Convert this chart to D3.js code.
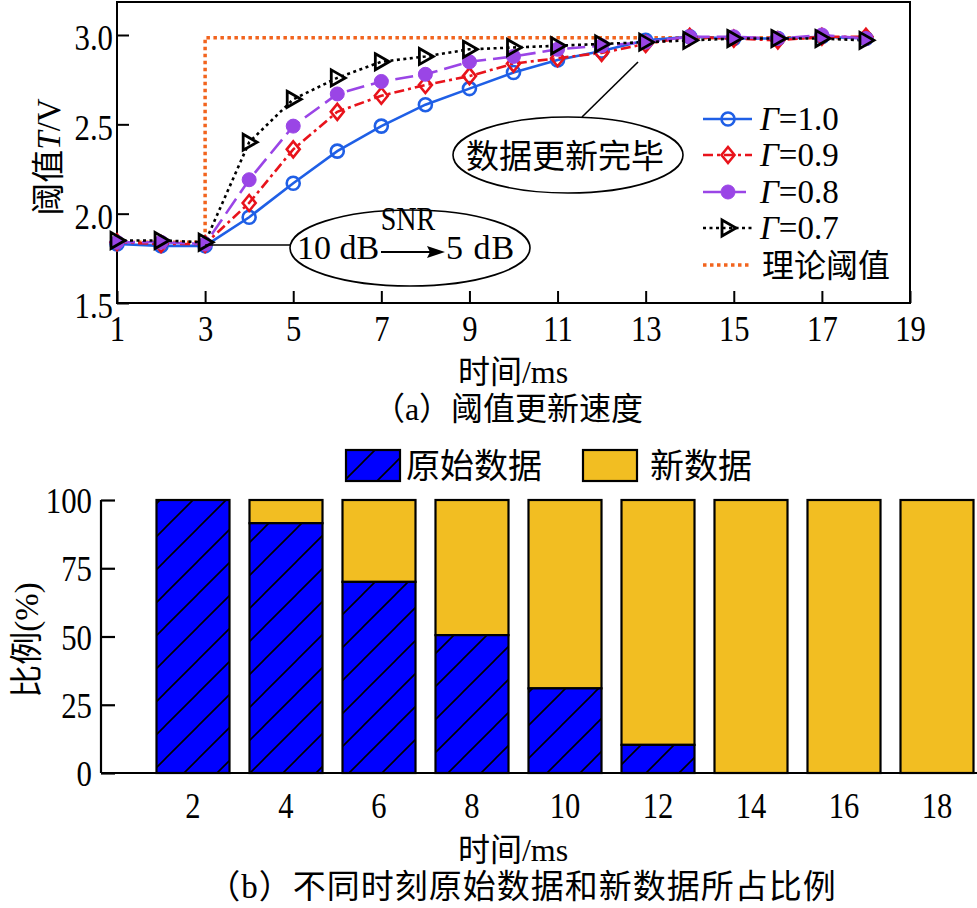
<!DOCTYPE html>
<html><head><meta charset="utf-8">
<script src="https://cdn.jsdelivr.net/npm/d3@7"></script>
<style>
body{margin:0;background:#fff;}
text{font-family:"Liberation Serif","Times New Roman","Noto Sans CJK SC",serif;fill:#000;}
</style></head>
<body><svg id="c" width="977" height="908"></svg>
<script>
// ---------- data (a) ----------
const times = [1,2,3,4,5,6,7,8,9,10,11,12,13,14,15,16,17,18];
const g10 = [1.83,1.82,1.82,1.98,2.17,2.35,2.49,2.61,2.70,2.79,2.86,2.91,2.97,2.99,2.98,2.98,2.99,2.98];
const g09 = [1.84,1.83,1.83,2.06,2.36,2.57,2.66,2.72,2.77,2.84,2.87,2.90,2.95,2.99,2.98,2.97,2.99,2.99];
const g08 = [1.84,1.84,1.83,2.19,2.49,2.67,2.74,2.78,2.85,2.88,2.92,2.94,2.96,2.99,2.99,2.98,3.00,2.98];
const g07 = [1.85,1.85,1.84,2.40,2.64,2.76,2.85,2.88,2.92,2.93,2.94,2.95,2.96,2.97,2.98,2.98,2.98,2.97];
const thX = [1,2,3,3,4,5,6,7,8,9,10,11,12,13,14,15,16,17,18];
const thY = [1.84,1.84,1.84,2.985,2.985,2.985,2.985,2.985,2.985,2.985,2.985,2.985,2.985,2.985,2.985,2.985,2.985,2.985,2.985];
const xTicksA = [1,3,5,7,9,11,13,15,17,19];
const yTicksA = [1.5,2.0,2.5,3.0];
const seriesNames = ["=1.0","=0.9","=0.8","=0.7"];
// ---------- data (b) ----------
const barTimes = ["2","4","6","8","10","12","14","16","18"];
const origPct = [100,91.5,70,50.5,31,10.3,0,0,0];
const newPct = [0,8.5,30,49.5,69,89.7,100,100,100];
const yTicksB = [0,25,50,75,100];
const legendB = ["原始数据","新数据"];

const SX = 0.88;
function narrow(sel, sx){
  sel.each(function(){
    const t = d3.select(this); const ax = +t.attr("x") || 0;
    t.attr("transform",`translate(${ax*(1-sx)},0) scale(${sx},1)`);
  });
}

const svg = d3.select("#c");
const defs = svg.append("defs");
const pat = defs.append("pattern").attr("id","hatch").attr("patternUnits","userSpaceOnUse")
  .attr("width",33).attr("height",33);
pat.append("rect").attr("width",33).attr("height",33).attr("fill","#0000ff");
pat.append("path").attr("d","M-5,38 L38,-5 M-5,5 L5,-5 M28,38 L38,28").attr("stroke","#000").attr("stroke-width",1.6);

// ================= (a) =================
const x = d3.scaleLinear().domain([1,19]).range([117,910]);
const y = d3.scaleLinear().domain([1.5,3.0]).range([303,35]);
const A = svg.append("g");

A.append("rect").attr("x",117).attr("y",2).attr("width",910-117).attr("height",301)
 .attr("fill","none").attr("stroke","#000").attr("stroke-width",2);
const xa = A.append("g").attr("transform","translate(0,303)")
  .call(d3.axisBottom(x).tickValues(xTicksA).tickSizeInner(-12).tickSizeOuter(0).tickPadding(8).tickFormat(d3.format("d")));
xa.select(".domain").remove();
xa.selectAll("line").attr("stroke","#000").attr("stroke-width",2);
xa.selectAll("text").attr("font-size",36).attr("dy","0.7em").attr("y",13).call(narrow,0.85);
const ya = A.append("g").attr("transform","translate(117,0)")
  .call(d3.axisLeft(y).tickValues(yTicksA).tickSizeInner(-12).tickSizeOuter(0).tickPadding(6).tickFormat(d3.format(".1f")));
ya.select(".domain").remove();
ya.selectAll("line").attr("stroke","#000").attr("stroke-width",2);
ya.selectAll("text").attr("font-size",35).attr("x",-4).attr("dy","0.42em").call(narrow,SX);

const line = d3.line().x(d=>x(d[0])).y(d=>y(d[1]));
const zipA = (ys)=>times.map((t,i)=>[t,ys[i]]);

A.append("path").datum(thX.map((t,i)=>[t,thY[i]])).attr("d",line)
 .attr("fill","none").attr("stroke","#f2641e").attr("stroke-width",3.5).attr("stroke-dasharray","3.5,3.5");

const styles = [
 {data:g10,color:"#1f5fe6",dash:null,marker:"circle"},
 {data:g09,color:"#e8131b",dash:"10,4,3,4",marker:"diamond"},
 {data:g08,color:"#9a45e6",dash:"18,7",marker:"dot"},
 {data:g07,color:"#000",dash:"3,3.5",marker:"tri"}
];
function marker(g,type,color,cx,cy){
  if(type==="circle") g.append("circle").attr("cx",cx).attr("cy",cy).attr("r",6.5).attr("fill","none").attr("stroke",color).attr("stroke-width",2.6);
  else if(type==="diamond") g.append("path").attr("d",`M${cx},${cy-8}L${cx+6.5},${cy}L${cx},${cy+8}L${cx-6.5},${cy}Z`).attr("fill","none").attr("stroke",color).attr("stroke-width",2.6);
  else if(type==="dot") g.append("circle").attr("cx",cx).attr("cy",cy).attr("r",7).attr("fill",color).attr("stroke",color).attr("stroke-width",1);
  else g.append("path").attr("d",`M${cx-6},${cy-8}L${cx+8},${cy}L${cx-6},${cy+8}Z`).attr("fill","none").attr("stroke",color).attr("stroke-width",2.8).attr("stroke-linejoin","miter");
}
styles.forEach(s=>{
  A.append("path").datum(zipA(s.data)).attr("d",line).attr("fill","none")
   .attr("stroke",s.color).attr("stroke-width",2.6).attr("stroke-dasharray",s.dash);
});
styles.forEach(s=>{
  const mg = A.append("g");
  zipA(s.data).forEach(d=>marker(mg,s.marker,s.color,x(d[0]),y(d[1])));
});

// annotations
A.append("line").attr("x1",x(3)).attr("y1",245).attr("x2",290).attr("y2",245).attr("stroke","#000").attr("stroke-width",1.6);
A.append("ellipse").attr("cx",410).attr("cy",248).attr("rx",120).attr("ry",38).attr("fill","none").attr("stroke","#000").attr("stroke-width",1.6);
A.append("text").attr("x",297).attr("y",259).attr("font-size",34).text("10 dB");
A.append("text").attr("x",408).attr("y",230).attr("font-size",33).attr("text-anchor","middle").text("SNR").call(narrow,0.85);
A.append("line").attr("x1",381).attr("y1",252).attr("x2",433).attr("y2",252).attr("stroke","#000").attr("stroke-width",1.8);
A.append("path").attr("d","M445,252 L427,246 L430,252 L427,258 Z").attr("fill","#000");
A.append("text").attr("x",446).attr("y",259).attr("font-size",34).attr("letter-spacing",1).text("5 dB");

A.append("line").attr("x1",582).attr("y1",117).attr("x2",638).attr("y2",62).attr("stroke","#000").attr("stroke-width",1.6);
A.append("ellipse").attr("cx",568).attr("cy",155).attr("rx",115).attr("ry",38).attr("fill","none").attr("stroke","#000").attr("stroke-width",1.6);
A.append("text").attr("x",565).attr("y",168).attr("font-size",33).attr("text-anchor","middle").text("数据更新完毕");

// legend (a)
const legY = [119,155,192,228,265];
styles.forEach((s,i)=>{
  A.append("line").attr("x1",703).attr("x2",752).attr("y1",legY[i]).attr("y2",legY[i])
   .attr("stroke",s.color).attr("stroke-width",2.6).attr("stroke-dasharray",s.dash);
  marker(A,s.marker,s.color,728,legY[i]);
  const t = A.append("text").attr("x",760).attr("y",legY[i]+11).attr("font-size",33);
  t.append("tspan").attr("font-style","italic").text("Γ");
  t.append("tspan").text(seriesNames[i]);
});
A.append("line").attr("x1",703).attr("x2",752).attr("y1",legY[4]).attr("y2",legY[4])
 .attr("stroke","#f2641e").attr("stroke-width",3.5).attr("stroke-dasharray","3.5,3.5");
A.append("text").attr("x",762).attr("y",legY[4]+12).attr("font-size",32).text("理论阈值");

// axis titles (a)
const yt = A.append("text").attr("transform","translate(60,157) rotate(-90)").attr("text-anchor","middle").attr("font-size",33);
yt.append("tspan").text("阈值");
yt.append("tspan").attr("font-style","italic").text("T");
yt.append("tspan").text("/V");
A.append("text").attr("x",513).attr("y",383).attr("text-anchor","middle").attr("font-size",32).text("时间/ms");
A.append("text").attr("x",508).attr("y",420).attr("text-anchor","middle").attr("font-size",32).text("（a）阈值更新速度");

// ================= (b) =================
const B = svg.append("g");
const xb = d3.scaleBand().domain(barTimes).range([146.5,983.5]).paddingInner(0.215).paddingOuter(0.1075);
const yb = d3.scaleLinear().domain([0,100]).range([773,500]);

barTimes.forEach((t,i)=>{
  const o = origPct[i], n = newPct[i];
  if(n>0) B.append("rect").attr("x",xb(t)).attr("width",xb.bandwidth())
    .attr("y",yb(o+n)).attr("height",yb(o)-yb(o+n)).attr("fill","#f2be22").attr("stroke","#000").attr("stroke-width",2.2);
  if(o>0) B.append("rect").attr("x",xb(t)).attr("width",xb.bandwidth())
    .attr("y",yb(o)).attr("height",yb(0)-yb(o)).attr("fill","url(#hatch)").attr("stroke","#000").attr("stroke-width",2.2);
});
B.append("line").attr("x1",101).attr("x2",977).attr("y1",773).attr("y2",773).attr("stroke","#000").attr("stroke-width",2.2);
const yba = B.append("g").attr("transform","translate(101,0)")
  .call(d3.axisLeft(yb).tickValues(yTicksB).tickSizeInner(-14).tickSizeOuter(0).tickPadding(8));
yba.select(".domain").attr("stroke","#000").attr("stroke-width",2.2).attr("d","M0,500V773");
yba.selectAll("line").attr("stroke","#000").attr("stroke-width",2.2);
yba.selectAll("text").attr("font-size",35).attr("x",-9).attr("dy","0.36em").call(narrow,SX);
const xba = B.append("g").attr("transform","translate(0,773)")
  .call(d3.axisBottom(xb).tickSize(0).tickPadding(0));
xba.select(".domain").remove();
xba.selectAll("text").attr("font-size",36).attr("y",45).attr("dy",0).call(narrow,0.85);

// legend (b)
B.append("rect").attr("x",346).attr("y",450).attr("width",54).attr("height",31).attr("fill","url(#hatch)").attr("stroke","#000").attr("stroke-width",2.2);
B.append("text").attr("x",406).attr("y",478).attr("font-size",34).text(legendB[0]);
B.append("rect").attr("x",583).attr("y",450).attr("width",54).attr("height",31).attr("fill","#f2be22").attr("stroke","#000").attr("stroke-width",2.2);
B.append("text").attr("x",650).attr("y",478).attr("font-size",34).text(legendB[1]);

B.append("text").attr("transform","translate(38,640) rotate(-90)").attr("text-anchor","middle").attr("font-size",33).text("比例(%)");
B.append("text").attr("x",513).attr("y",861).attr("text-anchor","middle").attr("font-size",32).text("时间/ms");
B.append("text").attr("x",522).attr("y",898).attr("text-anchor","middle").attr("font-size",33).attr("letter-spacing",1).text("（b）不同时刻原始数据和新数据所占比例");
</script></body></html>
